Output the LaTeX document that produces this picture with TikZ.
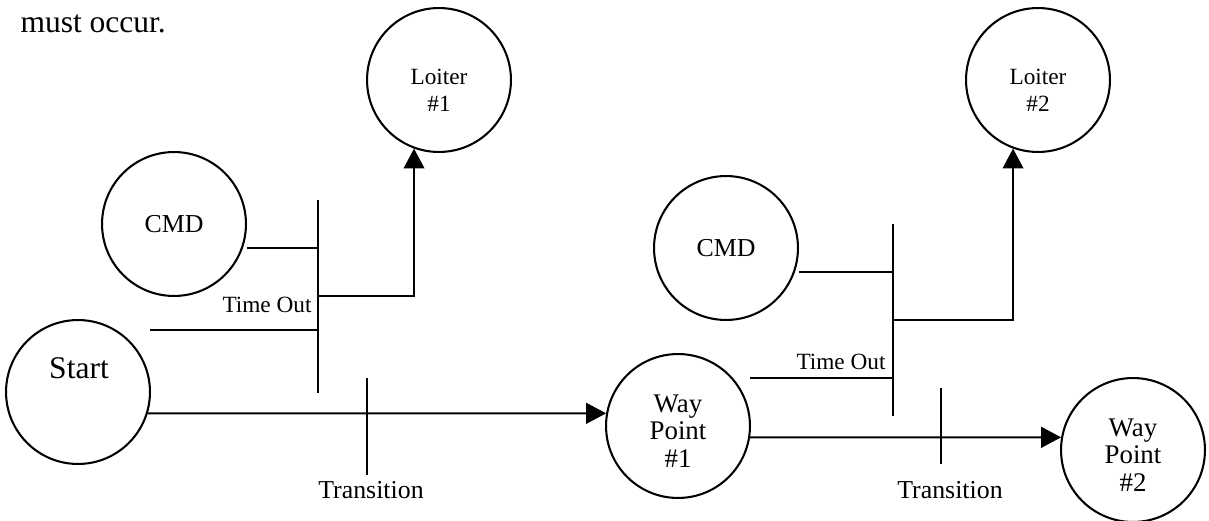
\documentclass[tikz,border=0pt]{standalone}
\usepackage{fontspec}
\setmainfont{Liberation Serif}
\usepackage{tikz}
\usetikzlibrary{arrows.meta,positioning,calc}

\begin{document}
\begin{tikzpicture}[x=0.387pt,y=-0.387pt,
		state/.style={draw,circle,line width=0.8pt,minimum size=55.7pt,inner sep=0pt,align=center},
		wire/.style={line width=0.8pt},
		flow/.style={line width=0.8pt,-{Triangle[length=7.7pt,width=8pt]}},
		lbl/.style={inner sep=0pt,align=center},
		big/.style={font=\fontsize{12.2}{14}\selectfont},
		mid/.style={font=\fontsize{10}{10.7}\selectfont},
		wayf/.style={font=\fontsize{10.4}{10.7}\selectfont},
		small/.style={font=\fontsize{9}{10.4}\selectfont}]
		
		\useasboundingbox (0,0) rectangle (1209,521);
		
		\node[lbl,big,anchor=base west] (occur) at (20,33) {must occur.};
		
		% states
		\node[state] (loiterA) at (439,80) {};
		\node[lbl,small] (loiterAtxt) at (439,90) {Loiter\\\#1};
		
		\node[state] (loiterB) at (1038,80) {};
		\node[lbl,small] (loiterBtxt) at (1038,90) {Loiter\\\#2};
		
		\node[state,mid] (cmdA) at (174,224) {CMD};
		
		\node[state,mid] (cmdB) at (726,248) {CMD};
		
		\node[state] (start) at (78,392) {};
		\node[lbl,big,anchor=base] (starttxt) at (79,378) {Start};
		
		\node[state] (wpA) at (678,426) {};
		\node[lbl,wayf] (wpAtxt) at (678,431) {Way\\Point\\\#1};
		
		\node[state] (wpB) at (1133,450) {};
		\node[lbl,wayf] (wpBtxt) at (1133,455) {Way\\Point\\\#2};
		
		% bars and ticks
		\coordinate (barAtop) at (318,200);
		\coordinate (barAbot) at (318,393);
		\coordinate (barAcmd) at (318,248);
		\coordinate (barAout) at (318,296);
		\coordinate (barAto) at (318,330);
		\coordinate (toA) at (150,330);
		\coordinate (tickAtop) at (367,378);
		\coordinate (tickAbot) at (367,475);
		
		\coordinate (barBtop) at (893,224);
		\coordinate (barBbot) at (893,416);
		\coordinate (barBcmd) at (893,272);
		\coordinate (barBout) at (893,320);
		\coordinate (barBto) at (893,378);
		\coordinate (toB) at (750,378);
		\coordinate (tickBtop) at (941,388);
		\coordinate (tickBbot) at (941,464);
		
		\draw[wire] (barAtop) -- (barAbot);
		
		\draw[wire] (cmdA.east |- barAcmd) -- (barAcmd);
		
		\draw[wire] (toA) -- (barAto);
		
		\draw[flow] (barAout) -| (loiterA.250);
		
		\draw[wire] (tickAtop) -- (tickAbot);
		
		\draw[flow] (start.-17) -- (wpA.170);
		
		\draw[wire] (barBtop) -- (barBbot);
		
		\draw[wire] (cmdB.east |- barBcmd) -- (barBcmd);
		
		\draw[wire] (toB) -- (barBto);
		
		\draw[flow] (barBout) -| (loiterB.250);
		
		\draw[wire] (tickBtop) -- (tickBbot);
		
		\draw[flow] (wpA.-9) -- (wpB.170);
		
		% labels
		\node[lbl,small,anchor=base east] (timeoutA) at (312,312) {Time Out};
		
		\node[lbl,small,anchor=base east] (timeoutB) at (886,369) {Time Out};
		
		\node[lbl,mid,anchor=base] (transA) at (371,498) {Transition};
		
		\node[lbl,mid,anchor=base] (transB) at (950,498) {Transition};
		
	\end{tikzpicture}
\end{document}
